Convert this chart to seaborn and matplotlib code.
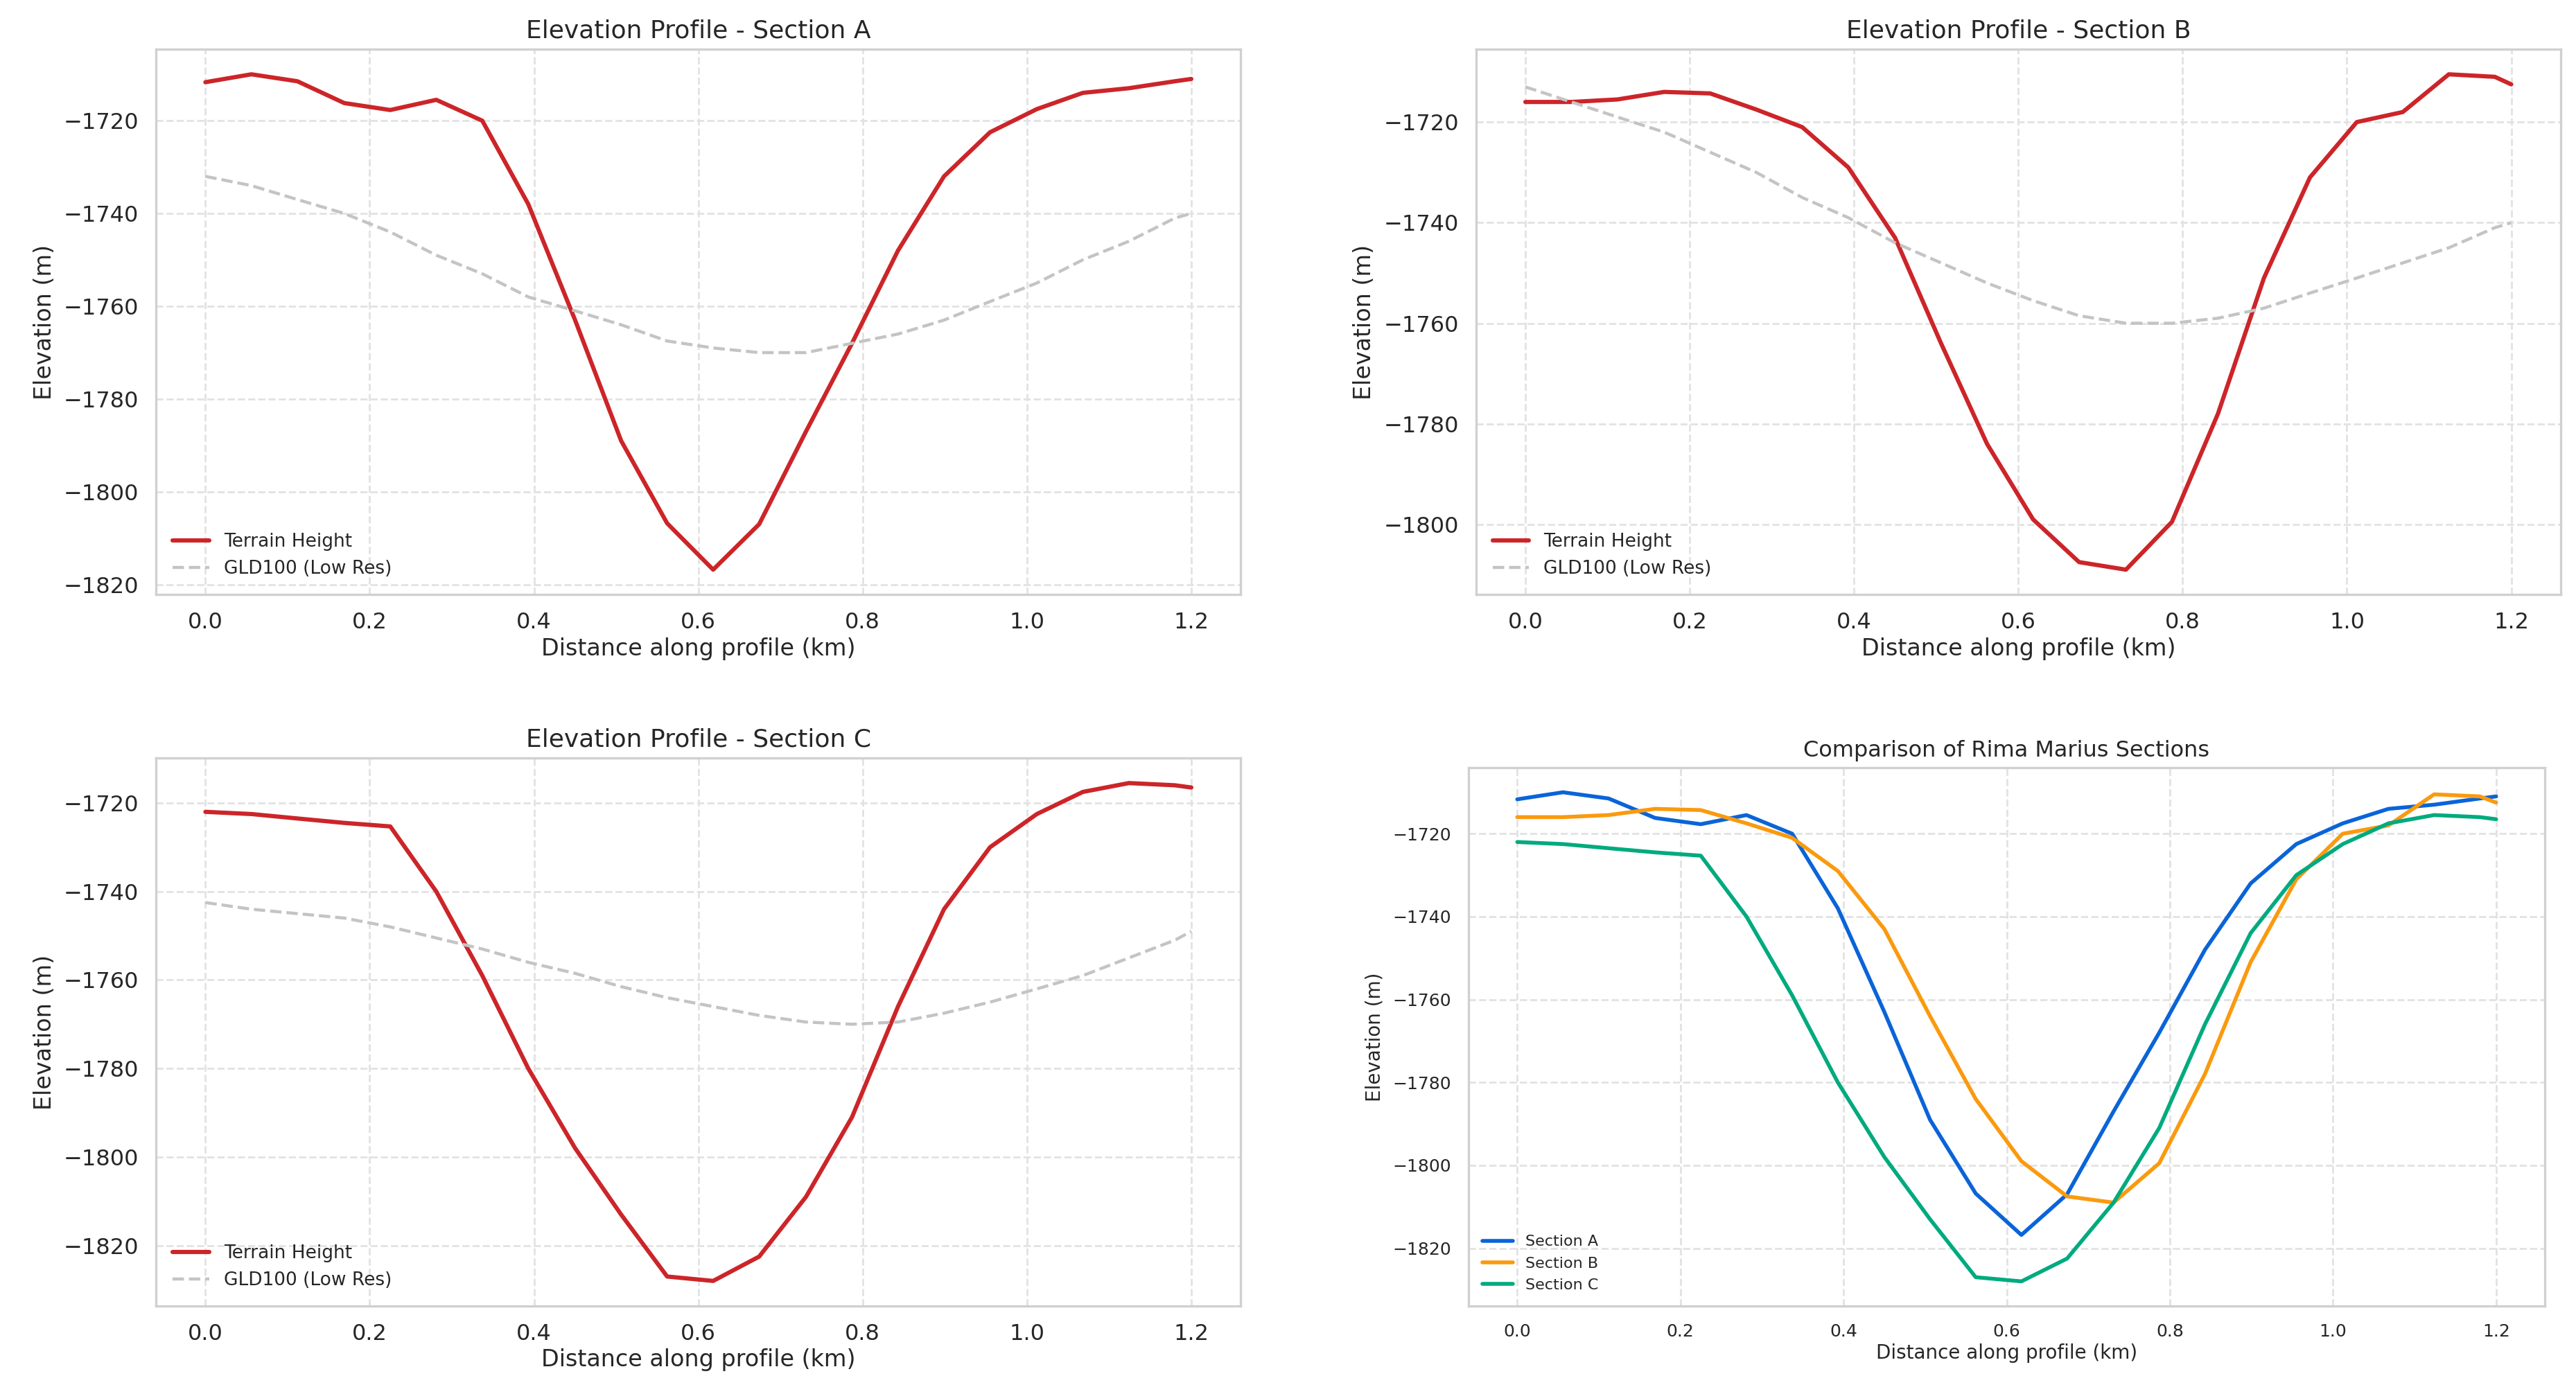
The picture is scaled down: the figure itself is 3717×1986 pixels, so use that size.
import matplotlib
matplotlib.use("Agg")
import matplotlib.pyplot as plt
import seaborn as sb
import pandas as pd

# Distances le long du profil (km)
distance = [0, 0.056, 0.112, 0.169, 0.225, 0.281, 0.337, 0.393, 0.45, 0.506, 0.562, 0.618,
            0.674, 0.731, 0.787, 0.843, 0.899, 0.955, 1.012, 1.068, 1.124, 1.18, 1.2]

# Section A
terrain_a = [-1711.7, -1710, -1711.5, -1716.2, -1717.7, -1715.5, -1720, -1738, -1763, -1789,
             -1806.8, -1816.8, -1807, -1787, -1768, -1748, -1732, -1722.5, -1717.5, -1714,
             -1713, -1711.5, -1711]
gld_a = [-1732, -1734, -1737, -1740, -1744, -1749, -1753, -1758, -1761, -1764, -1767.5, -1769,
         -1770, -1770, -1768, -1766, -1763, -1759, -1755, -1750, -1746, -1741, -1740]

# Section B
terrain_b = [-1716, -1716, -1715.5, -1714, -1714.3, -1717.5, -1721, -1729, -1743, -1764, -1784,
             -1799, -1807.5, -1809, -1799.5, -1778, -1751, -1731, -1720, -1718, -1710.5, -1711,
             -1712.5]
gld_b = [-1713, -1716, -1719, -1722, -1726, -1730, -1735, -1739, -1744, -1748, -1752, -1755.5,
         -1758.5, -1760, -1760, -1759, -1757, -1754, -1751, -1748, -1745, -1741, -1740]

# Section C
terrain_c = [-1722, -1722.5, -1723.5, -1724.5, -1725.3, -1740, -1759, -1780, -1798, -1813, -1827,
             -1828, -1822.5, -1809, -1791, -1766, -1744, -1730, -1722.5, -1717.5, -1715.5, -1716,
             -1716.5]
gld_c = [-1742.5, -1744, -1745, -1746, -1748, -1750.5, -1753, -1756, -1758.5, -1761.5, -1764,
         -1766, -1768, -1769.5, -1770, -1769.5, -1767.5, -1765, -1762, -1759, -1755, -1751, -1749]

sections = ["A", "B", "C"]
terrains = [terrain_a, terrain_b, terrain_c]
glds = [gld_a, gld_b, gld_c]

sb.set_theme(style="whitegrid")
plt.rcParams.update({
    "grid.linestyle": "--",
    "grid.color": "#e2e2e2",
    "axes.edgecolor": "#d0d0d0",
    "axes.linewidth": 1.2,
})

fig = plt.figure(figsize=(18.585, 9.93), dpi=200)
ax_a = fig.add_axes([0.0606, 0.568, 0.421, 0.396])
ax_b = fig.add_axes([0.573, 0.568, 0.421, 0.396])
ax_c = fig.add_axes([0.0606, 0.051, 0.421, 0.398])
ax_d = fig.add_axes([0.570, 0.051, 0.418, 0.391])

for ax, nom, ter, gld in zip([ax_a, ax_b, ax_c], sections, terrains, glds):
    df = pd.DataFrame({"dist": distance, "terrain": ter, "gld": gld})
    sb.lineplot(data=df, x="dist", y="terrain", ax=ax, color="#cc2529", linewidth=2.2,
                label="Terrain Height")
    sb.lineplot(data=df, x="dist", y="gld", ax=ax, color="#c4c4c4", linewidth=1.6,
                linestyle="--", label="GLD100 (Low Res)")
    ax.set_title(f"Elevation Profile - Section {nom}", fontsize=13)
    ax.set_xlabel("Distance along profile (km)", fontsize=12, labelpad=2)
    ax.set_ylabel("Elevation (m)", fontsize=12)
    ax.tick_params(labelsize=11.5, pad=3)
    ax.legend(loc="lower left", fontsize=9.5, frameon=False)

# Comparaison des sections
df_comp = pd.DataFrame({
    "dist": distance * 3,
    "elev": terrain_a + terrain_b + terrain_c,
    "section": ["Section A"] * len(distance) + ["Section B"] * len(distance)
               + ["Section C"] * len(distance),
})
sb.lineplot(data=df_comp, x="dist", y="elev", hue="section", ax=ax_d, linewidth=2,
            palette=["#0a64d8", "#fa9a0f", "#00aa7f"])
ax_d.set_title("Comparison of Rima Marius Sections", fontsize=11.5)
ax_d.set_xlabel("Distance along profile (km)", fontsize=10, labelpad=2)
ax_d.set_ylabel("Elevation (m)", fontsize=10)
ax_d.tick_params(labelsize=9, pad=3)
ax_d.legend(loc="lower left", fontsize=8, frameon=False)

fig.savefig("out.png")
